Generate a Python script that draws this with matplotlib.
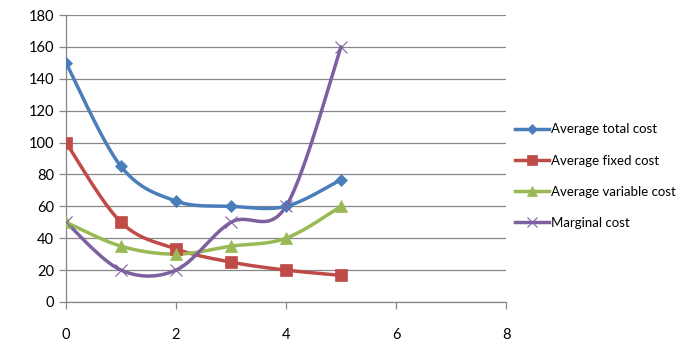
import numpy as np
import matplotlib
matplotlib.use("Agg")
import matplotlib.pyplot as plt
from matplotlib.lines import Line2D

plt.rcParams['font.family'] = ['Lato', 'DejaVu Sans']

# data
quantity = [0, 1, 2, 3, 4, 5]
avg_total = [150, 85, 63.3, 60, 60, 76.7]
avg_fixed = [100, 50, 33.3, 25, 20, 16.7]
avg_variable = [50, 35, 30, 35, 40, 60]
marginal = [50, 20, 20, 50, 60, 160]

names = ['Average total cost', 'Average fixed cost', 'Average variable cost', 'Marginal cost']
colors = ['#4A7EBB', '#BE4B48', '#98B954', '#7D60A0']
markers = ['D', 's', '^', 'x']
msizes = [6, 8, 8, 9]


def smooth(x, y, n=30):
    # Excel-like smoothing: cubic bezier with catmull-rom control points
    p = np.column_stack([x, y]).astype(float)
    ext = np.vstack([p[0], p, p[-1]])
    out = []
    t = np.linspace(0, 1, n)[:, None]
    for i in range(len(p) - 1):
        p0, p1, p2, p3 = ext[i], ext[i + 1], ext[i + 2], ext[i + 3]
        c1 = p1 + (p2 - p0) / 6
        c2 = p2 - (p3 - p1) / 6
        seg = ((1 - t) ** 3) * p1 + 3 * ((1 - t) ** 2) * t * c1 + 3 * (1 - t) * t ** 2 * c2 + t ** 3 * p2
        out.append(seg if i == 0 else seg[1:])
    out = np.vstack(out)
    return out[:, 0], out[:, 1]


fig = plt.figure(figsize=(6.99, 3.53), dpi=100)
ax = fig.add_axes([0.0944, 0.1445, 0.6296, 0.813])

handles = []
for ys, name, c, m, ms in zip([avg_total, avg_fixed, avg_variable, marginal], names, colors, markers, msizes):
    sx, sy = smooth(quantity, ys)
    ax.plot(sx, sy, color=c, lw=2.5, solid_capstyle='round', zorder=3)
    ax.plot(quantity, ys, ls='none', marker=m, ms=ms, color=c, mew=0.8 if m == 'x' else 0.5,
            mec=c, zorder=4)
    handles.append(Line2D([], [], color=c, lw=2.5, marker=m, ms=ms * 0.85, mec=c,
                          mew=0.8 if m == 'x' else 0.5, label=name))

ax.set_xlim(0, 8)
ax.set_ylim(0, 180)
ax.set_xticks(np.arange(0, 9, 2))
ax.set_yticks(np.arange(0, 181, 20))
ax.yaxis.grid(True, color='#878787', lw=0.9)
ax.set_axisbelow(True)
for s in ['top', 'right']:
    ax.spines[s].set_visible(False)
for s in ['left', 'bottom']:
    ax.spines[s].set_color('#878787')
    ax.spines[s].set_linewidth(0.9)
ax.tick_params(axis='both', colors='#878787', length=5, width=0.9, labelcolor='black', labelsize=10.5)
ax.tick_params(axis='x', pad=14)

fig.legend(handles=handles, loc='center left', bbox_to_anchor=(0.737, 0.501), frameon=False,
           fontsize=9.5, handlelength=2.6, handletextpad=0.15, labelspacing=1.45,
           borderpad=0, borderaxespad=0)

fig.savefig('out.png', dpi=100)
